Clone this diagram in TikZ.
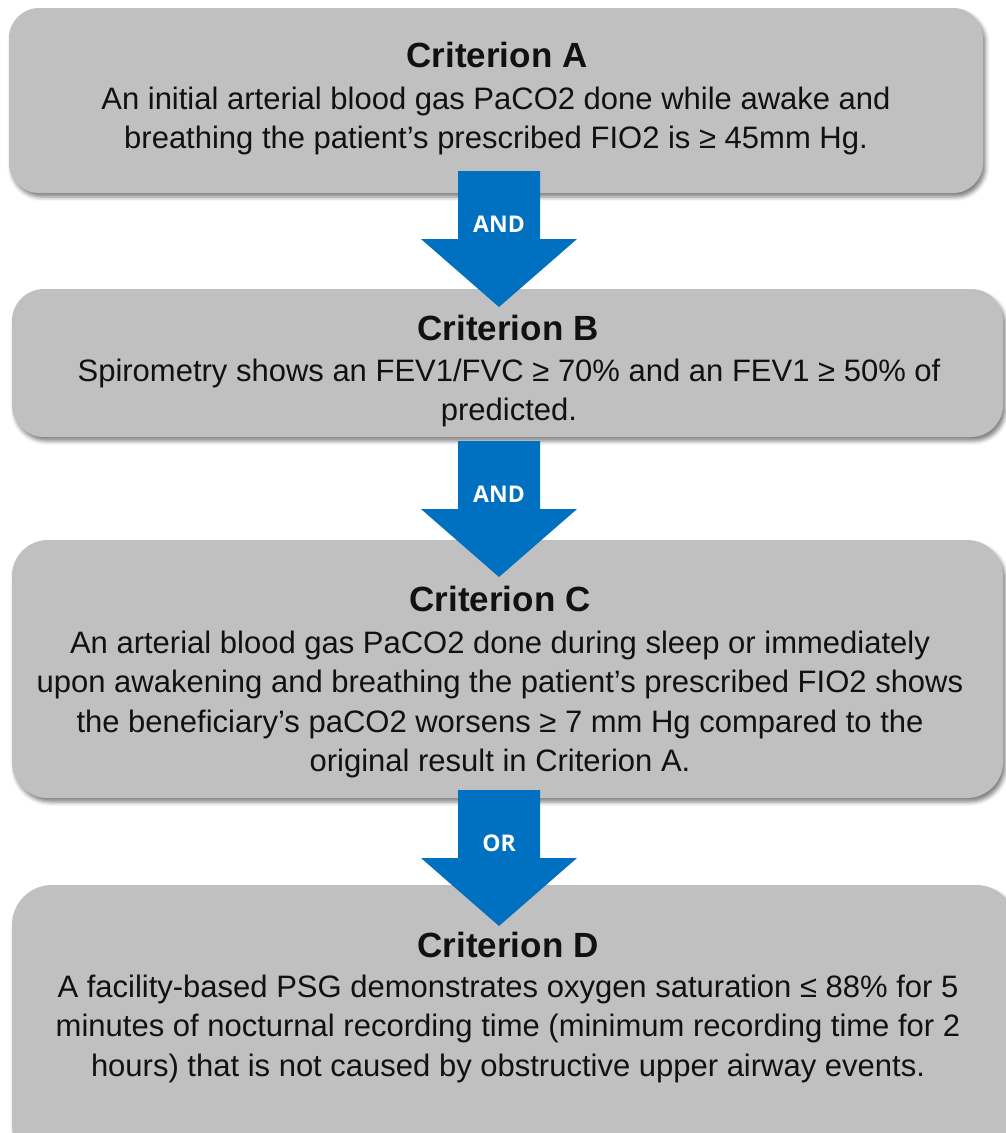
\documentclass[tikz,border=0pt]{standalone}
\usepackage{fontspec}
\setmainfont{Liberation Sans}
\newfontfamily\lblfont{Open Sans}
\usetikzlibrary{shadows.blur}
\definecolor{boxgray}{HTML}{C0C0C0}
\definecolor{arrowblue}{HTML}{0070C0}
\definecolor{txt}{HTML}{111111}
\tikzset{
  critbox/.style={fill=boxgray, draw=none, rounded corners=#1,
    blur shadow={shadow xshift=2.5pt, shadow yshift=-4pt, shadow blur radius=4pt, shadow opacity=50}},
  crittitle/.style={anchor=base, inner sep=0pt, text=txt, font=\fontsize{35}{40}\selectfont\bfseries},
  critbody/.style={anchor=north, inner sep=0pt, align=center, text=txt, font=\fontsize{31}{39.5}\selectfont},
  downarrow/.pic={
    \fill[arrowblue] (-41,0) -- (41,0) -- (41,68) -- (78,68) -- (0,136) -- (-78,68) -- (-41,68) -- cycle;
    \node[text=white, inner sep=0pt, font=\lblfont\fontsize{23}{26}\selectfont\bfseries] (-lbl) at (0,53) {#1};
  }
}
\begin{document}
\begin{tikzpicture}[x=1pt,y=-1pt]
\useasboundingbox (0,0) rectangle (1006,1133);
\clip (0,0) rectangle (1006,1133);
% boxes
\path[critbox=30] (9,8) rectangle (983,193);
\node[inner sep=0pt] (boxA) at (496,100.5) {};
\path[critbox=32] (12,289) rectangle (1003,437);
\node[inner sep=0pt] (boxB) at (507.5,363) {};
\path[critbox=36] (12,540) rectangle (1003,798);
\node[inner sep=0pt] (boxC) at (507.5,669) {};
\path[critbox=40] (12,885) rectangle (1016,1165);
\node[inner sep=0pt] (boxD) at (514,1010) {};
% arrows
\pic (arrAB) at (499,171) {downarrow=AND};
\pic (arrBC) at (499,441) {downarrow=AND};
\pic (arrCD) at (499,790) {downarrow=OR};
% texts
\node[crittitle] (tA) at (497,67) {Criterion A};
\node[critbody] (bA) at (496,79) {\rule{0pt}{30pt}An initial arterial blood gas PaCO2 done while awake and\\breathing the patient’s prescribed FIO2 is ≥ 45mm Hg.};
\node[crittitle] (tB) at (508,340) {Criterion B};
\node[critbody] (bB) at (509,351) {\rule{0pt}{30pt}Spirometry shows an FEV1/FVC ≥ 70\% and an FEV1 ≥ 50\% of\\predicted.};
\node[crittitle] (tC) at (500,611) {Criterion C};
\node[critbody] (bC) at (500,623) {\rule{0pt}{30pt}An arterial blood gas PaCO2 done during sleep or immediately\\upon awakening and breathing the patient’s prescribed FIO2 shows\\the beneficiary’s paCO2 worsens ≥ 7 mm Hg compared to the\\original result in Criterion A.};
\node[crittitle] (tD) at (508,957) {Criterion D};
\node[critbody] (bD) at (508,967) {\rule{0pt}{30pt}A facility-based PSG demonstrates oxygen saturation ≤ 88\% for 5\\minutes of nocturnal recording time (minimum recording time for 2\\hours) that is not caused by obstructive upper airway events.};
\end{tikzpicture}
\end{document}
